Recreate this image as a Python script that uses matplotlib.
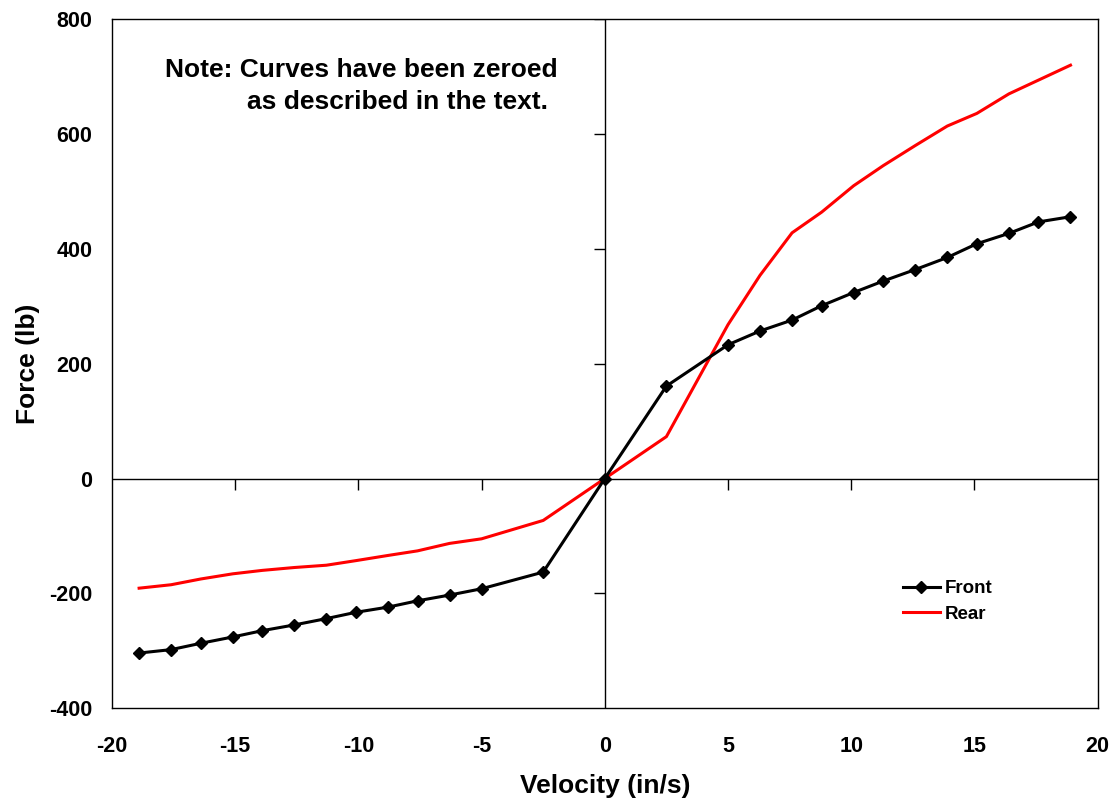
import numpy as np
import matplotlib.pyplot as plt

plt.rcParams['font.family'] = ['Liberation Sans', 'DejaVu Sans']
plt.rcParams['font.weight'] = 'bold'

# velocity (in/s) and force (lb)
velocity = [-18.9, -17.6, -16.4, -15.1, -13.9, -12.6, -11.3, -10.1, -8.8, -7.6, -6.3, -5.0, -2.5, 0.0,
            2.5, 5.0, 6.3, 7.6, 8.8, 10.1, 11.3, 12.6, 13.9, 15.1, 16.4, 17.6, 18.9]
front = [-304, -298, -287, -276, -265, -255, -244, -233, -224, -213, -203, -192, -163, 0,
         161, 233, 257, 276, 301, 324, 344, 364, 385, 409, 427, 447, 456]
rear = [-191, -185, -175, -166, -160, -155, -151, -143, -134, -126, -113, -105, -73, 0,
        73, 268, 354, 428, 464, 510, 545, 580, 614, 636, 670, 694, 720]

xticks = [-20, -15, -10, -5, 0, 5, 10, 15, 20]
yticks = [-400, -200, 0, 200, 400, 600, 800]

fig = plt.figure(figsize=(11.2, 8.02), dpi=100)
ax = fig.add_axes([0.1, 0.117, 0.88, 0.859])

ax.axhline(0, color='black', lw=1.0, zorder=1)
ax.axvline(0, color='black', lw=1.0, zorder=1)
# small tick marks on the centre axes
ax.plot([t for t in xticks if t not in (-20, 0, 20)], [0] * 6, ls='none', marker=3,
        ms=8, mew=1.0, color='black', zorder=1)
ax.plot([0] * 5, [-200, 200, 400, 600, 800], ls='none', marker=0,
        ms=8, mew=1.0, color='black', zorder=1)

ax.plot(velocity, front, color='black', lw=2.2, marker='D', ms=6, label='Front', zorder=3)
ax.plot(velocity, rear, color='#ff0000', lw=2.2, label='Rear', zorder=2)

ax.set_xlim(-20, 20)
ax.set_ylim(-400, 800)
ax.set_xticks(xticks)
ax.set_yticks(yticks)
ax.set_xticklabels([str(t) for t in xticks])
ax.set_yticklabels([str(t) for t in yticks])
ax.tick_params(axis='x', length=0, pad=20, labelsize=15.5)
ax.tick_params(axis='y', length=0, pad=14, labelsize=15.5)
for s in ax.spines.values():
    s.set_linewidth(1.0)

ax.set_xlabel('Velocity (in/s)', fontsize=19, fontweight='bold', labelpad=12)
ax.set_ylabel('Force (lb)', fontsize=19, fontweight='bold', labelpad=7)

ax.text(0.054, 0.916, 'Note: Curves have been zeroed', transform=ax.transAxes,
        ha='left', va='baseline', fontsize=19, fontweight='bold')
ax.text(0.137, 0.870, 'as described in the text.', transform=ax.transAxes,
        ha='left', va='baseline', fontsize=19, fontweight='bold')

leg = ax.legend(loc='upper left', bbox_to_anchor=(0.785, 0.21), frameon=False,
                fontsize=13.5, handlelength=2.0, handletextpad=0.25, labelspacing=0.45)
for t in leg.get_texts():
    t.set_fontweight('bold')

fig.savefig('out.png', dpi=100)
